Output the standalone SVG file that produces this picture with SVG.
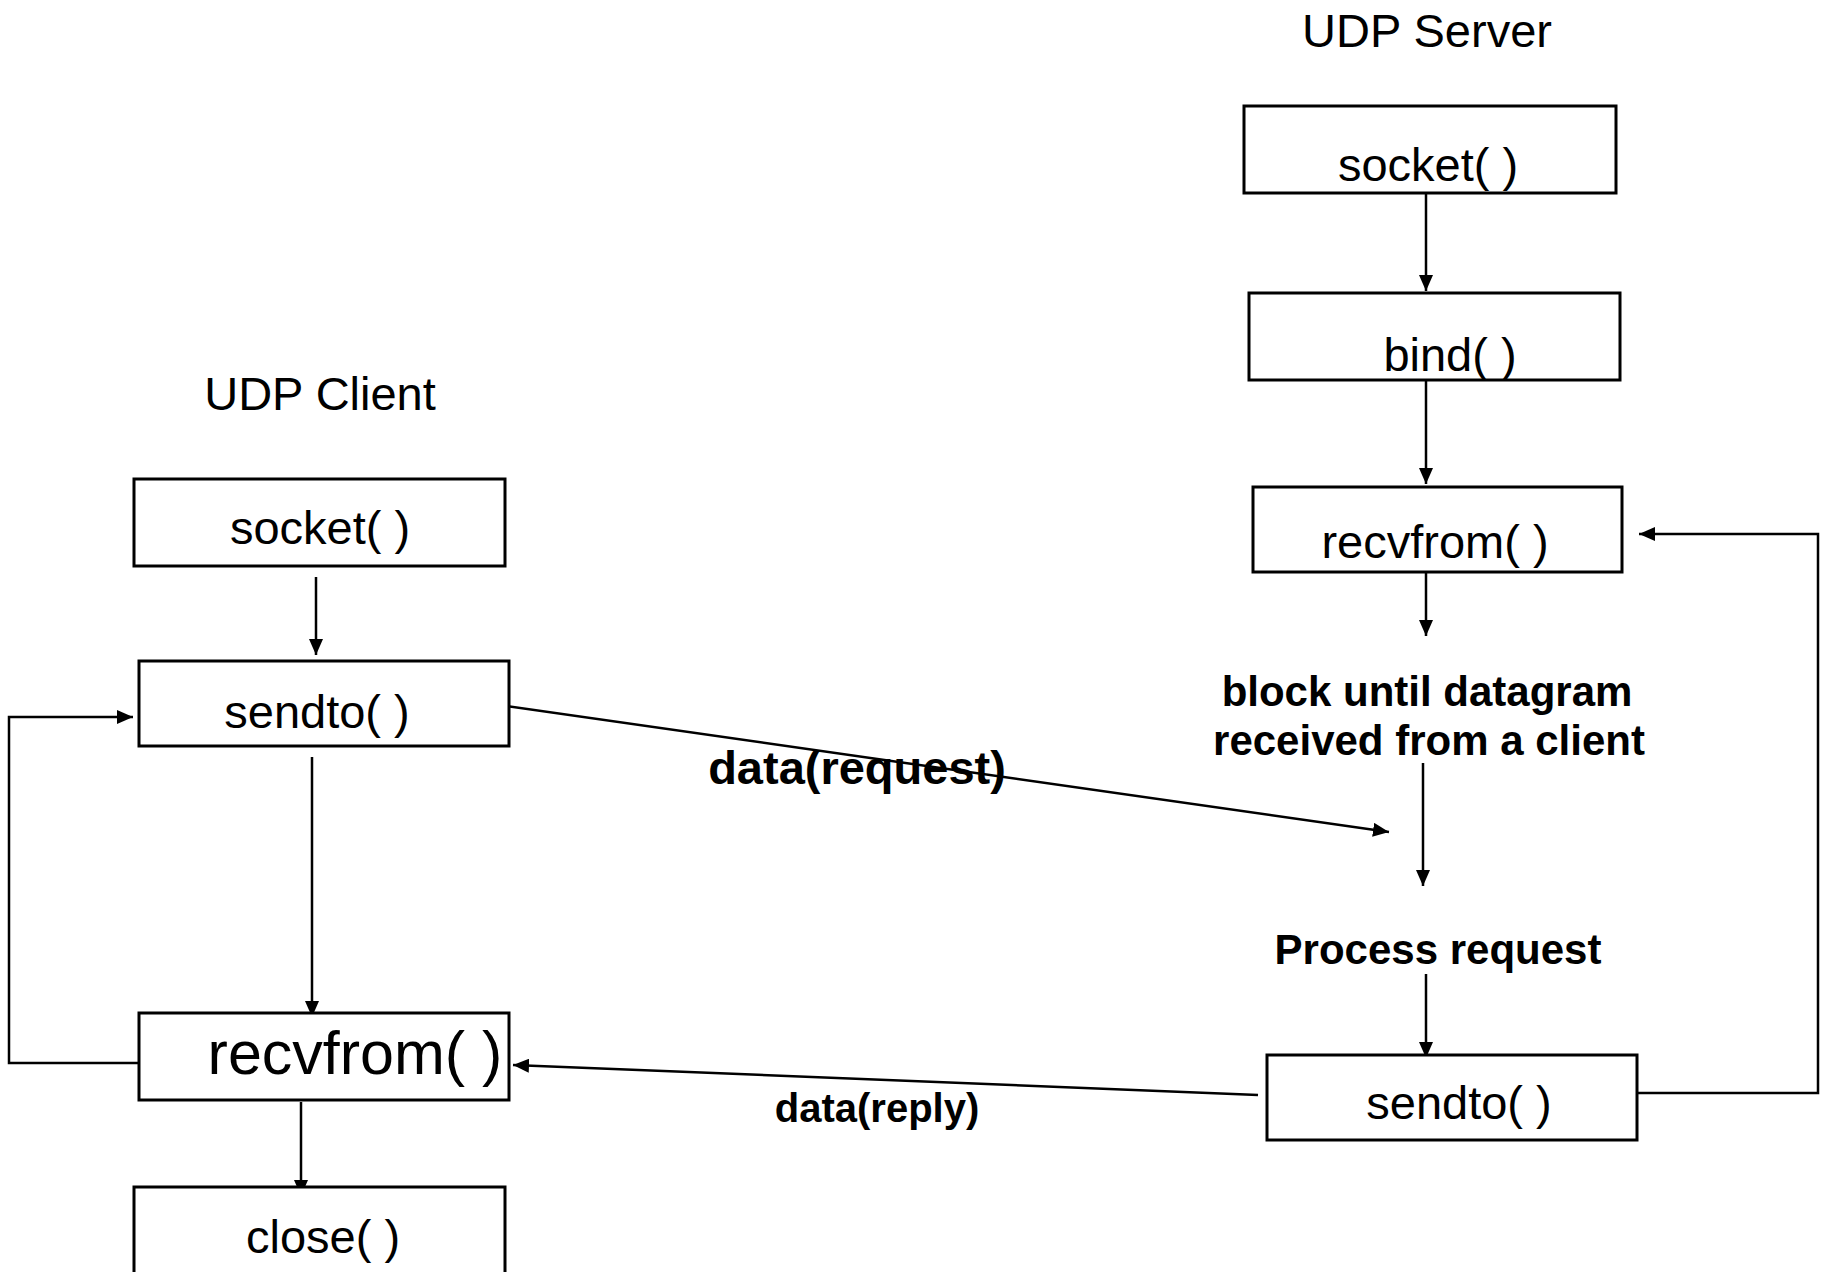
<svg xmlns="http://www.w3.org/2000/svg" width="1827" height="1272" viewBox="0 0 1827 1272">
<style>
.box{fill:#fff;stroke:#000;stroke-width:3}
.t{font-family:"Liberation Sans",Arial,sans-serif;font-size:47px;fill:#000;text-anchor:middle}
.b{font-family:"Liberation Sans",Arial,sans-serif;font-weight:bold;font-size:42px;fill:#000;text-anchor:middle}
.c{fill:none;stroke:#000;stroke-width:2.5}
</style>
<defs>
<marker id="ah" markerUnits="userSpaceOnUse" markerWidth="18" markerHeight="14" refX="16" refY="7" orient="auto">
<path d="M0,0 L16,7 L0,14 z" fill="#000"/>
</marker>
</defs>
<rect width="1827" height="1272" fill="#fff"/>
<g id="connectors">
<line class="c" x1="1426" y1="193" x2="1426" y2="291" marker-end="url(#ah)"/>
<line class="c" x1="1426" y1="380" x2="1426" y2="484" marker-end="url(#ah)"/>
<line class="c" x1="1426" y1="572" x2="1426" y2="636" marker-end="url(#ah)"/>
<line class="c" x1="1423" y1="763" x2="1423" y2="886" marker-end="url(#ah)"/>
<line class="c" x1="1426" y1="974" x2="1426" y2="1058" marker-end="url(#ah)"/>
<polyline class="c" points="1637,1093 1818,1093 1818,534 1639,534" marker-end="url(#ah)"/>
<line class="c" x1="506" y1="706" x2="1389" y2="832" marker-end="url(#ah)"/>
<line class="c" x1="1258" y1="1095" x2="513" y2="1065" marker-end="url(#ah)"/>
<line class="c" x1="316" y1="577" x2="316" y2="655" marker-end="url(#ah)"/>
<line class="c" x1="312" y1="757" x2="312" y2="1017" marker-end="url(#ah)"/>
<polyline class="c" points="139,1063 9,1063 9,717 133,717" marker-end="url(#ah)"/>
<line class="c" x1="301" y1="1102" x2="301" y2="1196" marker-end="url(#ah)"/>
</g>
<g id="title-server"><text class="t" x="1427" y="47">UDP Server</text></g>
<g id="title-client"><text class="t" x="320" y="410">UDP Client</text></g>
<g id="s-socket"><rect class="box" x="1244" y="106" width="372" height="87"/><text class="t" x="1428" y="181">socket( )</text></g>
<g id="s-bind"><rect class="box" x="1249" y="293" width="371" height="87"/><text class="t" x="1450" y="371">bind( )</text></g>
<g id="s-recvfrom"><rect class="box" x="1253" y="487" width="369" height="85"/><text class="t" x="1435" y="558">recvfrom( )</text></g>
<g id="s-block"><text class="b" x="1427" y="706">block until datagram</text><text class="b" x="1429" y="755">received from a client</text></g>
<g id="s-process"><text class="b" x="1438" y="964">Process request</text></g>
<g id="s-sendto"><rect class="box" x="1267" y="1055" width="370" height="85"/><text class="t" x="1459" y="1119">sendto( )</text></g>
<g id="c-socket"><rect class="box" x="134" y="479" width="371" height="87"/><text class="t" x="320" y="544">socket( )</text></g>
<g id="c-sendto"><rect class="box" x="139" y="661" width="370" height="85"/><text class="t" x="317" y="728">sendto( )</text></g>
<g id="c-recvfrom"><rect class="box" x="139" y="1013" width="370" height="87"/><text class="t" x="355" y="1074" style="font-size:61px">recvfrom( )</text></g>
<g id="c-close"><rect class="box" x="134" y="1187" width="371" height="90"/><text class="t" x="323" y="1253">close( )</text></g>
<g id="labels">
<text class="b" x="857" y="784" style="font-size:47px">data(request)</text>
<text class="b" x="877" y="1122" style="font-size:40px">data(reply)</text>
</g>
</svg>
